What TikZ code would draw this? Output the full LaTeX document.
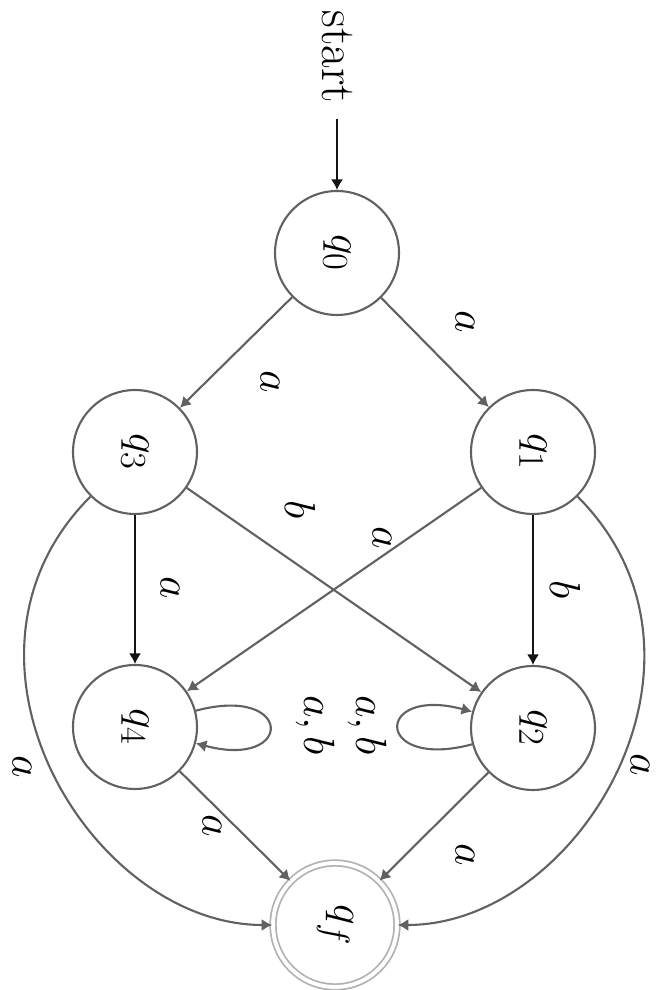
\documentclass[tikz,border=0pt]{standalone}
\usepackage{graphicx}
\usetikzlibrary{arrows.meta}
\newcommand{\turned}[1]{\rotatebox[origin=c]{-90}{#1}}
\tikzset{
  state/.style={circle, draw=black!62, line width=1.2pt, minimum size=2.48cm,
                inner sep=0pt, font=\fontsize{28}{32}\selectfont},
  final/.style={state, draw=black!30, double, double distance=2.2pt, line width=1pt},
  lbl/.style={rotate=-90, inner sep=0pt, font=\fontsize{28}{32}\selectfont},
  trans/.style={draw=black!62, line width=1.2pt, -{Latex[length=6pt,width=7pt]}},
  vtrans/.style={trans, draw=black!92}
}
\begin{document}
\begin{tikzpicture}[x=0.02cm, y=0.02cm]
  \useasboundingbox (0,0) rectangle (667,990);

  % states
  \node[lbl, inner sep=9pt] (start) at (337,933) {start};
  \node[state] (q0) at (337,737) {\turned{$q_0$}};
  \node[state] (q1) at (533,538) {\turned{$q_1$}};
  \node[state] (q3) at (135,538) {\turned{$q_3$}};
  \node[state] (q2) at (533,262) {\turned{$q_2$}};
  \node[state] (q4) at (135,263) {\turned{$q_4$}};
  \node[final] (qf) at (335,65)  {\turned{$q_f$}};

  % initial arrow
  \draw[vtrans] (start) -- (q0);

  % transitions out of q0
  \draw[trans] (q0) -- (q1) node[lbl] at (465,668) {$a$};
  \draw[trans] (q0) -- (q3) node[lbl] at (270,608) {$a$};

  % middle layer
  \draw[vtrans] (q1) -- (q2) node[lbl] at (565,400) {$b$};
  \draw[vtrans] (q3) -- (q4) node[lbl] at (170,402) {$a$};
  \draw[trans] (q1) -- (q4) node[lbl] at (382,452) {$a$};
  \draw[trans] (q3) -- (q2) node[lbl] at (300,480) {$b$};

  % self loops
  \draw[trans] (q2) to[out=-165, in=165, looseness=8] (q2)
    node[lbl] at (367,265) {$a,b$};
  \draw[trans] (q4) to[out=15, in=-15, looseness=8] (q4)
    node[lbl] at (315,265) {$a,b$};

  % into the accepting state
  \draw[trans] (q2) -- (qf) node[lbl] at (465,135) {$a$};
  \draw[trans] (q4) -- (qf) node[lbl] at (212,164) {$a$};
  \draw[trans] (q1) to[out=-45, in=0, out looseness=1.25, in looseness=1] (qf)
    node[lbl] at (640,225) {$a$};
  \draw[trans] (q3) to[out=-135, in=180, out looseness=1.25, in looseness=1] (qf)
    node[lbl] at (22,223) {$a$};
\end{tikzpicture}
\end{document}
